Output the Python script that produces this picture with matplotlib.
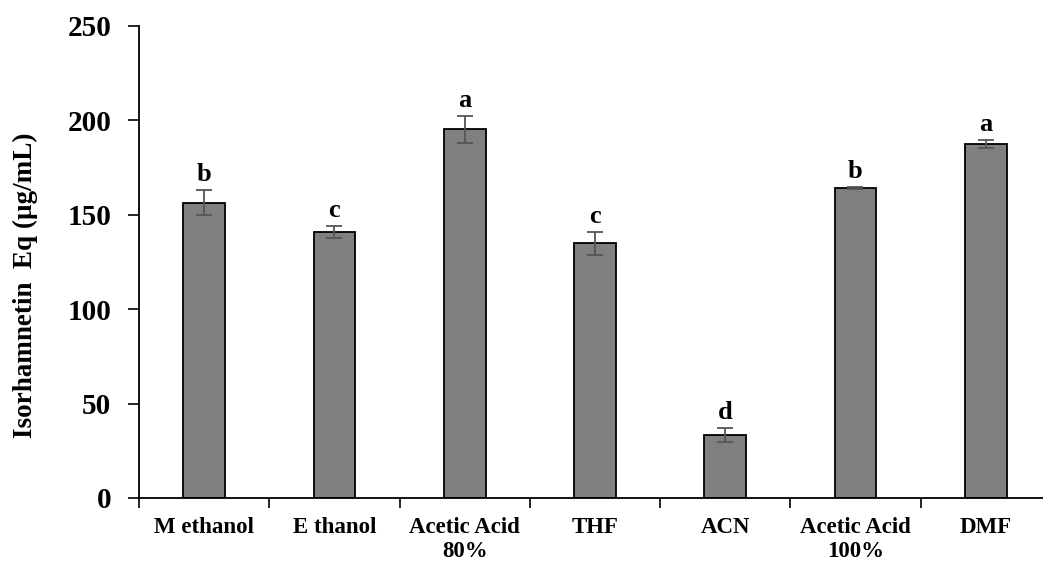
import numpy as np
import matplotlib.pyplot as plt

# ── Data ──
solvents = ['M ethanol', 'E thanol', 'Acetic Acid\n80%', 'THF', 'ACN',
            'Acetic Acid\n100%', 'DMF']
values = [156.4, 140.9, 195.3, 134.9, 33.2, 164.2, 187.5]
errors = [6.5, 3.0, 7.2, 6.0, 3.8, 0.5, 2.0]
letters = ['b', 'c', 'a', 'c', 'd', 'b', 'a']

plt.rcParams['font.family'] = ['Liberation Serif', 'DejaVu Serif']
plt.rcParams['font.weight'] = 'bold'

fig = plt.figure(figsize=(10.43, 5.65), dpi=100)
ax = fig.add_axes([0.1333, 0.1186, 0.8667, 0.8354])

x = np.arange(len(solvents))
ax.bar(x, values, width=0.32, color='#808080', edgecolor='black',
       linewidth=1.3, zorder=2)
ax.errorbar(x, values, yerr=errors, fmt='none', ecolor='#555555',
            elinewidth=1.3, capsize=6, capthick=1.3, zorder=3)

for xi, v, e, lab in zip(x, values, errors, letters):
    ax.annotate(lab, (xi, v + e), xytext=(0, 3), textcoords='offset points',
                ha='center', va='bottom', fontsize=19, fontweight='bold')

ax.set_xlim(-0.5, 6.44)
ax.set_ylim(0, 250)
ax.set_yticks([0, 50, 100, 150, 200, 250])
ax.set_xticks(np.arange(-0.5, 6.5, 1.0), minor=False)
ax.set_xticklabels([])
ax.set_xticks(x, minor=True)
ax.set_xticklabels(solvents, minor=True, fontsize=16.5, fontweight='bold',
                   linespacing=1.15)
ax.tick_params(axis='x', which='major', length=7, width=1.2, direction='out')
ax.tick_params(axis='x', which='minor', length=0, pad=14)
ax.tick_params(axis='y', length=8, width=1.2, direction='out', pad=12,
               labelsize=21)
for t in ax.get_yticklabels():
    t.set_fontweight('bold')

ax.spines['top'].set_visible(False)
ax.spines['right'].set_visible(False)
ax.spines['left'].set_linewidth(1.3)
ax.spines['bottom'].set_linewidth(1.3)

fig.text(0.024, 0.495, 'Isorhamnetin  Eq (\u03bcg/mL)', rotation=90,
         ha='center', va='center', fontsize=19.5, fontweight='bold')

fig.savefig('out.png', dpi=100)
